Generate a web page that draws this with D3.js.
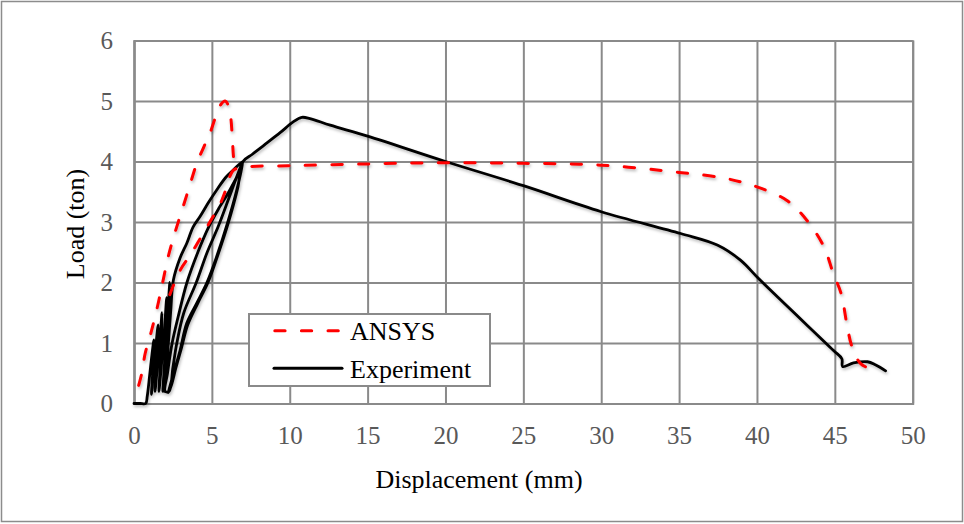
<!DOCTYPE html>
<html>
<head>
<meta charset="utf-8">
<script src="https://cdn.jsdelivr.net/npm/d3@7"></script>
<style>
  html, body { margin: 0; padding: 0; background: #fff; }
  svg { display: block; }
  text { font-family: "Liberation Serif", "Times New Roman", serif; }
</style>
</head>
<body>
<script>
// ---------- data ----------
const xTicks = [0, 5, 10, 15, 20, 25, 30, 35, 40, 45, 50];
const yTicks = [0, 1, 2, 3, 4, 5, 6];
const xTitle = "Displacement (mm)";
const yTitle = "Load (ton)";
const seriesNames = ["ANSYS", "Experiment"];

// ANSYS – early branch reaching the 5 ton peak
const ansysRiseDisp = [0.3, 0.5, 0.72, 1.07, 1.46, 1.8, 2.2, 2.6, 3.15, 3.6, 4.03, 4.5, 4.88, 5.3, 5.6, 5.85, 6.05, 6.2, 6.3, 6.38, 6.45];
const ansysRiseLoad = [0.3, 0.5, 0.83, 1.15, 1.55, 1.95, 2.43, 2.8, 3.25, 3.62, 3.97, 4.25, 4.47, 4.78, 4.95, 5.0, 4.93, 4.75, 4.45, 4.1, 3.92];
// ANSYS – main branch with plateau and final drop
const ansysMainDisp = [2.3, 2.96, 3.6, 4.1, 4.6, 5.08, 5.5, 5.85, 6.1, 6.4, 7.2, 10, 15, 20, 25, 30, 35, 38, 40, 41.9, 43.2, 44.3, 44.9, 45.4, 45.8, 46.1, 46.66, 47.5];
const ansysMainLoad = [1.8, 2.2, 2.45, 2.66, 2.88, 3.09, 3.28, 3.5, 3.72, 3.86, 3.91, 3.93, 3.96, 3.98, 3.97, 3.94, 3.82, 3.72, 3.58, 3.36, 3.03, 2.59, 2.15, 1.82, 1.27, 0.94, 0.66, 0.55];

// Experiment – cyclic loading then post-peak softening
const expDisp = [0, 0.4, 0.75, 0.85, 1.0, 1.15, 1.28, 1.22, 1.12,
  1.25, 1.42, 1.55, 1.48, 1.35,
  1.5, 1.68, 1.8, 1.74, 1.6,
  1.75, 1.95, 2.1, 2.03, 1.85,
  2.0, 2.15, 2.3, 2.22, 2.05, 1.95,
  2.15, 2.35, 2.53, 2.95, 3.39, 3.8, 4.24, 4.8, 5.31, 5.9, 6.38, 7.0,
  6.2, 5.5, 4.8, 4.1, 3.4, 2.85, 2.45, 2.15, 2.0,
  2.25, 2.5, 2.75, 3.2, 4.0, 4.7, 5.4, 6.1, 6.6, 7.0,
  6.6, 6.0, 5.31, 4.67, 4.03, 3.39, 2.96, 2.6, 2.3, 2.2,
  2.4, 2.7, 3.05, 3.45, 4.1, 4.75, 5.38, 6.05, 6.65, 7.0,
  7.6, 8.3, 9.4, 10.2, 10.77, 11.3, 12.6, 15, 20, 25, 30, 35.1, 37.45, 38.94, 40.2, 44.9, 45.45, 45.5, 46.2, 47.1, 47.6, 48.26];
const expLoad = [0, 0, 0, 0.12, 0.45, 0.8, 1.05, 0.6, 0.15,
  0.5, 1.0, 1.3, 0.8, 0.2,
  0.6, 1.1, 1.5, 0.9, 0.2,
  0.6, 1.2, 1.75, 1.0, 0.2,
  0.7, 1.4, 2.0, 1.3, 0.5, 0.2,
  0.8, 1.5, 2.04, 2.4, 2.65, 2.92, 3.09, 3.33, 3.53, 3.74, 3.86, 4.0,
  3.55, 3.25, 2.92, 2.5, 2.0, 1.45, 1.0, 0.5, 0.2,
  0.2, 0.6, 1.0, 1.5, 2.0, 2.5, 2.92, 3.4, 3.75, 4.0,
  3.53, 2.98, 2.43, 1.99, 1.66, 1.33, 0.88, 0.55, 0.28, 0.18,
  0.3, 0.6, 0.92, 1.3, 1.66, 2.0, 2.45, 2.98, 3.55, 4.0,
  4.12, 4.26, 4.48, 4.65, 4.73, 4.71, 4.6, 4.42, 4.0, 3.6, 3.17, 2.81, 2.62, 2.37, 2.04, 0.88, 0.74, 0.61, 0.67, 0.69, 0.64, 0.54];

// ---------- drawing ----------
const W = 964, H = 524;
const svg = d3.select("body").append("svg").attr("width", W).attr("height", H);

const defs = svg.append("defs");
const f = defs.append("filter").attr("id", "sh").attr("x", "-10%").attr("y", "-10%").attr("width", "120%").attr("height", "120%");
f.append("feDropShadow").attr("dx", 1).attr("dy", 2).attr("stdDeviation", 1.4).attr("flood-color", "#000").attr("flood-opacity", 0.28);

// outer frame
svg.append("rect").attr("x", 1.5).attr("y", 1.5).attr("width", W - 3).attr("height", H - 4)
  .attr("fill", "#fff").attr("stroke", "#8c8c8c").attr("stroke-width", 1.5);

const x = d3.scaleLinear().domain([0, 50]).range([134, 912.7]);
const y = d3.scaleLinear().domain([0, 6]).range([403.5, 40.5]);
const gridCol = "#8a8a8a";

// x axis with vertical grid
const gx = svg.append("g").attr("transform", `translate(0,${y(0)})`)
  .call(d3.axisBottom(x).tickValues(xTicks).tickSize(-(y(0) - y(6))).tickPadding(0).tickFormat(d3.format("d")));
gx.select(".domain").attr("stroke", gridCol).attr("stroke-width", 2);
gx.selectAll(".tick line").attr("stroke", gridCol).attr("stroke-width", 2);
gx.selectAll(".tick text").attr("y", 40).attr("dy", null)
  .attr("fill", "#595959").attr("font-size", 25).attr("font-family", "Liberation Serif");

// y axis with horizontal grid
const gy = svg.append("g").attr("transform", `translate(${x(0)},0)`)
  .call(d3.axisLeft(y).tickValues(yTicks).tickSize(-(x(50) - x(0))).tickPadding(0).tickFormat(d3.format("d")));
gy.select(".domain").attr("stroke", gridCol).attr("stroke-width", 2);
gy.selectAll(".tick line").attr("stroke", gridCol).attr("stroke-width", 2);
gy.selectAll(".tick text").attr("x", -21).attr("dy", "0.33em")
  .attr("fill", "#595959").attr("font-size", 25).attr("font-family", "Liberation Serif");

// axis titles
svg.append("text").attr("x", 479).attr("y", 488).attr("text-anchor", "middle")
  .attr("font-size", 26).attr("fill", "#000").text(xTitle);
svg.append("text").attr("transform", `translate(84,224) rotate(-90)`).attr("text-anchor", "middle")
  .attr("font-size", 26).attr("fill", "#000").text(yTitle);

// series
const line = d3.line().x(d => x(d[0])).y(d => y(d[1])).curve(d3.curveCatmullRom.alpha(0.5));
const zip = (a, b) => a.map((v, i) => [v, b[i]]);

const dash = "10.3 16.3";
const plot = svg.append("g").attr("filter", "url(#sh)");
plot.append("path").attr("d", line(zip(expDisp, expLoad)))
  .attr("fill", "none").attr("stroke", "#000").attr("stroke-width", 2.8)
  .attr("stroke-linejoin", "round").attr("stroke-linecap", "round");
[[ansysRiseDisp, ansysRiseLoad], [ansysMainDisp, ansysMainLoad]].forEach(([dx, dy]) => {
  plot.append("path").attr("d", line(zip(dx, dy)))
    .attr("fill", "none").attr("stroke", "#ff0000").attr("stroke-width", 3)
    .attr("stroke-dasharray", dash).attr("stroke-linecap", "round");
});

// legend
const lg = svg.append("g");
lg.append("rect").attr("x", 249).attr("y", 314).attr("width", 241).attr("height", 72)
  .attr("fill", "#fff").attr("stroke", gridCol).attr("stroke-width", 2);
lg.append("line").attr("x1", 274.8).attr("x2", 340.5).attr("y1", 330.7).attr("y2", 330.7)
  .attr("stroke", "#ff0000").attr("stroke-width", 3).attr("stroke-dasharray", dash).attr("stroke-linecap", "round");
lg.append("text").attr("x", 350).attr("y", 340).attr("font-size", 26).attr("fill", "#000").text(seriesNames[0]);
lg.append("line").attr("x1", 274).attr("x2", 342).attr("y1", 368.3).attr("y2", 368.3)
  .attr("stroke", "#000").attr("stroke-width", 3).attr("stroke-linecap", "round");
lg.append("text").attr("x", 350).attr("y", 378).attr("font-size", 26).attr("fill", "#000").text(seriesNames[1]);
</script>
</body>
</html>
